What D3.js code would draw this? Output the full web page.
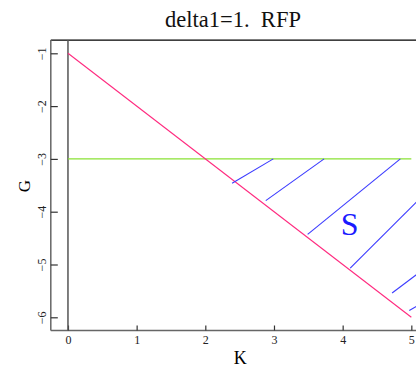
<!DOCTYPE html>
<html>
<head>
<meta charset="utf-8">
<script src="https://cdn.jsdelivr.net/npm/d3@7"></script>
<style>
  html, body { margin: 0; padding: 0; background: #fff; overflow: hidden; }
  svg { display: block; font-family: "Liberation Serif", "DejaVu Serif", serif; }
</style>
</head>
<body>
<svg id="chart" width="416" height="370"></svg>
<script>
// Axis ticks
const xTicks = [0, 1, 2, 3, 4, 5];
const yTicks = [-1, -2, -3, -4, -5, -6];

// Boundary line G = -1 - K, drawn from K = 0 to K = 5
const boundaryK = [0, 5];
const boundaryG = [-1, -6];

// Constraint level G = -3
const levelK = [0, 5];
const levelG = [-3, -3];

// Hatching segments [K0, G0, K1, G1]
const hatchK0 = [2.39, 2.88, 3.49, 4.11, 4.72, 4.97];
const hatchG0 = [-3.46, -3.79, -4.43, -5.07, -5.54, -5.87];
const hatchK1 = [2.99, 3.73, 4.84, 5.25, 5.25, 5.25];
const hatchG1 = [-3.0, -3.0, -3.0, -3.59, -5.02, -5.66];

const regionLabel = { text: "S", K: 4.1, G: -4.44 };

const svg = d3.select("#chart");

const x = d3.scaleLinear().domain([-0.25, 5.25]).range([50.8, 428.5]);
const y = d3.scaleLinear().domain([-0.75, -6.25]).range([40.1, 330.5]);

const pLeft = x.range()[0], pRight = x.range()[1];
const pTop = y.range()[0], pBottom = y.range()[1];

svg.append("defs").append("clipPath").attr("id", "plot-clip")
  .append("rect").attr("x", pLeft).attr("y", pTop)
  .attr("width", pRight - pLeft).attr("height", pBottom - pTop);

// Title
svg.append("text")
  .attr("x", 233).attr("y", 27)
  .attr("text-anchor", "middle")
  .attr("font-size", 22.5)
  .attr("fill", "#111")
  .style("white-space", "pre")
  .text("delta1=1.  RFP");

// Frame: top edge black, axes grey
svg.append("line").attr("x1", pLeft).attr("x2", pRight).attr("y1", pTop).attr("y2", pTop)
  .attr("stroke", "#000").attr("stroke-width", 1.3);

// Axes with inward ticks
const xAxis = d3.axisBottom(x).tickValues(xTicks).tickSize(-5)
  .tickFormat(d3.format("d"));
const gx = svg.append("g").attr("transform", `translate(0,${pBottom})`).call(xAxis);
gx.select(".domain").attr("d", `M${pLeft},0H${pRight}`).attr("stroke", "#666").attr("stroke-width", 1.5);
gx.selectAll(".tick line").attr("stroke", "#333").attr("stroke-width", 1.2);
gx.selectAll(".tick text").attr("font-family", "Liberation Serif, serif").attr("font-size", 12)
  .attr("fill", "#222").attr("dy", null).attr("y", 13.5);

const yAxis = d3.axisLeft(y).tickValues(yTicks).tickSize(-7);
const gy = svg.append("g").attr("transform", `translate(${pLeft},0)`).call(yAxis);
gy.select(".domain").attr("d", `M0,${pTop}V${pBottom}`).attr("stroke", "#666").attr("stroke-width", 1.5);
gy.selectAll(".tick line").attr("stroke", "#333").attr("stroke-width", 1.2);
gy.selectAll(".tick text").remove();
gy.selectAll(".tick").append("text")
  .attr("transform", "translate(-5,0) rotate(-90)")
  .attr("text-anchor", "middle")
  .attr("font-family", "Liberation Serif, serif")
  .attr("font-size", 12)
  .attr("fill", "#222")
  .text(d => "\u2212" + Math.abs(d));

// Vertical line at K = 0
svg.append("line").attr("x1", x(0)).attr("x2", x(0)).attr("y1", pTop).attr("y2", pBottom)
  .attr("stroke", "#555").attr("stroke-width", 1.5);

// Axis titles
svg.append("text").attr("x", x(2.5) + 0.5).attr("y", 364)
  .attr("text-anchor", "middle").attr("font-size", 18).text("K");
svg.append("text").attr("transform", `translate(30,186) rotate(-90)`)
  .attr("text-anchor", "middle").attr("font-size", 17).text("G");

const plot = svg.append("g").attr("clip-path", "url(#plot-clip)");

// Constraint level
plot.append("line")
  .attr("x1", x(levelK[0])).attr("y1", y(levelG[0]))
  .attr("x2", x(levelK[1])).attr("y2", y(levelG[1]))
  .attr("stroke", "#8ae234").attr("stroke-width", 1.1);

// Boundary line
plot.append("line")
  .attr("x1", x(boundaryK[0])).attr("y1", y(boundaryG[0]))
  .attr("x2", x(boundaryK[1])).attr("y2", y(boundaryG[1]))
  .attr("stroke", "#ff2a7f").attr("stroke-width", 1.1);

// Hatching
plot.selectAll("line.hatch").data(d3.range(hatchK0.length)).join("line")
  .attr("class", "hatch")
  .attr("x1", i => x(hatchK0[i])).attr("y1", i => y(hatchG0[i]))
  .attr("x2", i => x(hatchK1[i])).attr("y2", i => y(hatchG1[i]))
  .attr("stroke", "#3b3bff").attr("stroke-width", 1.1);

// Region label
plot.append("text")
  .attr("x", x(regionLabel.K)).attr("y", y(regionLabel.G))
  .attr("text-anchor", "middle").attr("font-size", 32)
  .attr("fill", "#1a1aff").text(regionLabel.text);
</script>
</body>
</html>
